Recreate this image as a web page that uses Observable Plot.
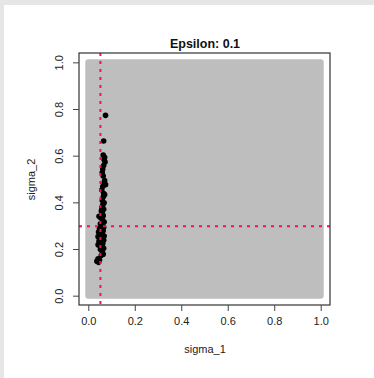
<!DOCTYPE html>
<html>
<head>
<meta charset="utf-8">
<script src="https://cdn.jsdelivr.net/npm/d3@7"></script>
<script src="https://cdn.jsdelivr.net/npm/@observablehq/plot@0.6"></script>
<style>
  html, body { margin: 0; padding: 0; background: #fff; }
  #wrap { position: relative; width: 374px; height: 378px; overflow: hidden; }
  .strip { position: absolute; background: #e6e6e6; }
</style>
</head>
<body>
<div id="wrap">
  <div id="chart"></div>
  <div class="strip" style="left:0;top:0;width:374px;height:5px;"></div>
  <div class="strip" style="left:0;top:0;width:4px;height:378px;"></div>
</div>
<script>
// Title and axis labels
const title = "Epsilon: 0.1";
const xLabel = "sigma_1";
const yLabel = "sigma_2";

// Axis ranges (R style: data range extended by 4%)
const xDomain = [-0.04, 1.04];
const yDomain = [-0.04, 1.04];

// Prior sample range (uniform prior covering the unit square)
const priorRange = [0, 1];

// Accepted samples
const sigma1 = [0.072, 0.064, 0.062, 0.068, 0.066, 0.070, 0.064, 0.060, 0.058, 0.062,
  0.068, 0.066, 0.072, 0.060, 0.056, 0.064, 0.068, 0.062, 0.058, 0.066,
  0.060, 0.056, 0.064, 0.054, 0.058, 0.062, 0.044, 0.052, 0.060, 0.066,
  0.050, 0.058, 0.064, 0.046, 0.054, 0.062, 0.042, 0.050, 0.058, 0.066,
  0.040, 0.048, 0.056, 0.064, 0.044, 0.052, 0.060, 0.040, 0.048, 0.056,
  0.064, 0.050, 0.058, 0.062, 0.054, 0.040, 0.035, 0.042, 0.046];
const sigma2 = [0.775, 0.665, 0.605, 0.595, 0.585, 0.575, 0.560, 0.545, 0.530, 0.515,
  0.495, 0.485, 0.478, 0.470, 0.455, 0.440, 0.435, 0.425, 0.410, 0.400,
  0.390, 0.380, 0.372, 0.365, 0.355, 0.345, 0.342, 0.335, 0.325, 0.318,
  0.310, 0.302, 0.295, 0.290, 0.285, 0.280, 0.275, 0.270, 0.265, 0.258,
  0.255, 0.250, 0.245, 0.240, 0.235, 0.230, 0.225, 0.220, 0.215, 0.210,
  0.205, 0.200, 0.190, 0.180, 0.175, 0.160, 0.150, 0.145, 0.155];

// True parameter values (reference lines)
const trueSigma1 = [0.05];
const trueSigma2 = [0.3];

// Tick values
const xTicks = [0, 0.2, 0.4, 0.6, 0.8, 1.0];
const yTicks = [0, 0.2, 0.4, 0.6, 0.8, 1.0];

const accepted = sigma1.map((s, i) => ({s1: s, s2: sigma2[i]}));
const priorBox = [{x1: priorRange[0], x2: priorRange[1], y1: priorRange[0], y2: priorRange[1]}];
const plotBox = [{x1: xDomain[0], x2: xDomain[1], y1: yDomain[0], y2: yDomain[1]}];

const red = "#ec1846";
const fmt = d3.format(".1f");

const chart = Plot.plot({
  width: 374,
  height: 378,
  marginLeft: 79,
  marginRight: 44,
  marginTop: 53,
  marginBottom: 73,
  x: {domain: xDomain},
  y: {domain: yDomain},
  style: {fontFamily: "'Liberation Sans', Arial, Helvetica, sans-serif", background: "transparent", color: "#222"},
  marks: [
    Plot.rect(priorBox, {x1: "x1", x2: "x2", y1: "y1", y2: "y2", inset: -3, rx: 3, fill: "#bebebe"}),
    Plot.dot(accepted, {x: "s1", y: "s2", r: 2.8, fill: "black", stroke: "none"}),
    Plot.ruleX(trueSigma1, {stroke: red, strokeWidth: 2, strokeDasharray: "3,5"}),
    Plot.ruleY(trueSigma2, {stroke: red, strokeWidth: 2, strokeDasharray: "3,5"}),
    Plot.rect(plotBox, {x1: "x1", x2: "x2", y1: "y1", y2: "y2", fill: "none", stroke: "#333", strokeWidth: 1.2}),
    Plot.axisX({ticks: xTicks, tickFormat: fmt, tickSize: 6, tickPadding: 6, fontSize: 11,
      label: xLabel, labelAnchor: "center", labelArrow: "none", labelOffset: 47, stroke: "#444", fill: "#222"}),
    Plot.axisY({ticks: yTicks, tickFormat: () => "", tickSize: 6, fontSize: 11,
      label: yLabel, labelAnchor: "center", labelArrow: "none", labelOffset: 52, stroke: "#444", fill: "#222"}),
    Plot.text(yTicks, {y: d => d, text: d => fmt(d), frameAnchor: "left", dx: -20, rotate: -90,
      textAnchor: "middle", fontSize: 11, fill: "#222"}),
    Plot.text([title], {frameAnchor: "top", dy: -14, fontWeight: "bold", fontSize: 12.5, fill: "#111"})
  ]
});
document.getElementById("chart").appendChild(chart);
</script>
</body>
</html>
